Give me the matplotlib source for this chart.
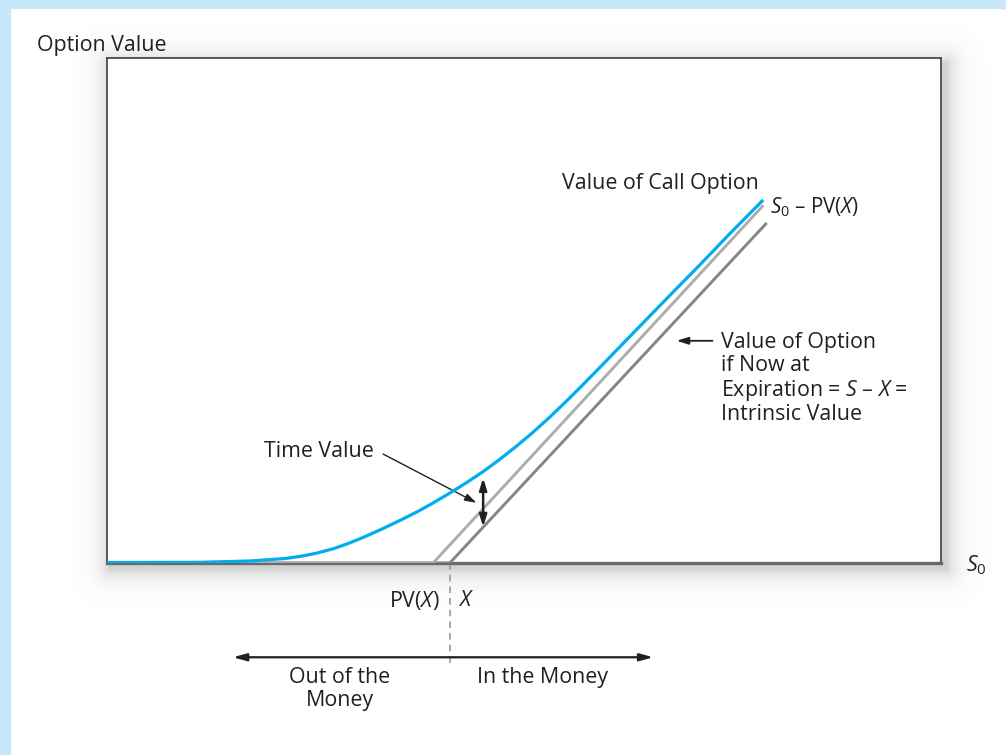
import numpy as np
import matplotlib
matplotlib.use('Agg')
import matplotlib.pyplot as plt
from matplotlib.patches import Rectangle

plt.rcParams['font.family'] = ['Open Sans', 'DejaVu Sans']
plt.rcParams['mathtext.fontset'] = 'custom'
plt.rcParams['mathtext.rm'] = 'Open Sans'
plt.rcParams['mathtext.it'] = 'Open Sans:italic'

# stock price S0 vs option value, arbitrary units
call_s = [0, 11.15, 17.15, 21.34, 23.26, 25.18, 27.22, 29.14, 31.05, 33.10, 35.13,
          37.17, 39.09, 41.13, 43.16, 45.08, 47.12, 49.16, 51.08, 53.12,
          55.16, 57.08, 59.11, 63.07, 67.15, 71.11, 74.70, 78.54]
call_v = [0.06, 0.08, 0.24, 0.53, 0.80, 1.18, 1.72, 2.40, 3.18, 4.10, 5.06,
          6.07, 7.13, 8.32, 9.58, 10.85, 12.33, 13.93, 15.53, 17.36,
          19.30, 21.20, 23.25, 27.30, 31.45, 35.45, 39.15, 43.00]
pv_s = [0, 39.1, 78.7]          # S0 - PV(X)
pv_v = [0, 0, 42.5]
intr_s = [0, 41.1, 79.1]        # S0 - X (intrinsic value)
intr_v = [0, 0, 40.4]
strike = 41.1
pv_strike = 39.1
time_value_at = 45.1
time_value_lo, time_value_hi = 4.3, 10.1

W, H = 1006, 755
fig = plt.figure(figsize=(W / 100, H / 100), dpi=100)
fig.patch.set_facecolor('white')

# drop shadow behind the plot box
bg = fig.add_axes([0, 0, 1, 1], zorder=-2)
yy, xx = np.mgrid[0:H, 0:W]
x0, x1, y0, y1 = 110, 946, 63, 568
dx = np.maximum(np.maximum(x0 - xx, 0), xx - x1)
dy = np.maximum(np.maximum(y0 - yy, 0), yy - y1)
d = np.hypot(dx, dy)
alpha = 0.32 * np.exp(-d / 10.0)
img = np.zeros((H, W, 4))
img[..., :3] = 0.45
img[..., 3] = alpha
bg.imshow(img, extent=[0, W, H, 0], aspect='auto', interpolation='bilinear')
bg.set_xlim(0, W)
bg.set_ylim(H, 0)
bg.axis('off')

# light blue frame
fig.patches.append(Rectangle((0, 1 - 8 / H), 1, 8 / H, transform=fig.transFigure,
                             color='#c7e8f9', zorder=-3))
fig.patches.append(Rectangle((0, 0), 10 / W, 1, transform=fig.transFigure,
                             color='#c7e8f9', zorder=-3))

ax = fig.add_axes([107 / W, (H - 563) / H, 834 / W, 505 / H])
ax.set_facecolor('white')
ax.set_xlim(0, 100)
ax.set_ylim(0, 60)
ax.set_xticks([])
ax.set_yticks([])
for s in ['top', 'left', 'right']:
    ax.spines[s].set_color('#4a4a4a')
    ax.spines[s].set_linewidth(1.3)
ax.spines['bottom'].set_color('#6a6a6a')
ax.spines['bottom'].set_linewidth(2.4)

ax.plot(intr_s, intr_v, color='#858585', lw=2.1, solid_capstyle='butt', zorder=3)
ax.plot(pv_s, pv_v, color='#adadad', lw=2.1, solid_capstyle='butt', zorder=3)
ax.plot(call_s, call_v, color='#00aeef', lw=2.3, zorder=4, solid_joinstyle='round')

txt = '#231f20'
fs = 15.4

ax.text(54.6, 45.1, 'Value of Call Option', fontsize=fs, color=txt, ha='left', va='center')
ax.text(79.5, 42.3, r'$S_0$ – PV($X$)', fontsize=fs - 0.6, color=txt, ha='left', va='center')

ax.text(73.6, 27.4, 'Value of Option\nif Now at\nExpiration = $S$ – $X$ =\nIntrinsic Value',
        fontsize=fs, color=txt, ha='left', va='top', linespacing=1.1)
ax.annotate('', xy=(68.3, 26.4), xytext=(72.6, 26.4),
            arrowprops=dict(arrowstyle='-|>,head_length=0.7,head_width=0.22',
                            color='#231f20', lw=1.3, shrinkA=0, shrinkB=0))

ax.text(25.4, 13.2, 'Time Value', fontsize=fs, color=txt, ha='center', va='center')
ax.annotate('', xy=(44.3, 7.15), xytext=(33.1, 12.95),
            arrowprops=dict(arrowstyle='-|>,head_length=0.7,head_width=0.22',
                            color='#231f20', lw=1.0, shrinkA=0, shrinkB=0))
ax.annotate('', xy=(time_value_at, time_value_hi), xytext=(time_value_at, time_value_lo),
            arrowprops=dict(arrowstyle='<|-|>,head_length=0.7,head_width=0.22',
                            color='#231f20', lw=1.8, shrinkA=0, shrinkB=0))

# below the axis
ax.text(104.2, -0.3, r'$S_0$', fontsize=fs, color=txt, ha='center', va='center', clip_on=False)
ax.text(pv_strike + 0.8, -4.5, 'PV($X$)', fontsize=fs, color=txt, ha='right', va='center',
        clip_on=False)
ax.text(strike + 1.0, -4.5, '$X$', fontsize=fs, color=txt, ha='left', va='center',
        clip_on=False)
ax.plot([strike, strike], [0, -12.5], color='#9a9a9a', lw=1.2, ls=(0, (4, 3)),
        clip_on=False, zorder=2)
ax.annotate('', xy=(15.1, -11.2), xytext=(65.5, -11.2), annotation_clip=False,
            arrowprops=dict(arrowstyle='<|-|>,head_length=0.8,head_width=0.22',
                            color='#231f20', lw=1.6, shrinkA=0, shrinkB=0))
ax.text(27.9, -12.35, 'Out of the\nMoney', fontsize=fs, color=txt, ha='center', va='top',
        linespacing=1.1, clip_on=False)
ax.text(52.2, -12.35, 'In the Money', fontsize=fs, color=txt, ha='center', va='top',
        clip_on=False)

fig.text(37 / W, 1 - 45 / H, 'Option Value', fontsize=fs, color=txt, ha='left', va='center')

fig.savefig('out.png', dpi=100)
